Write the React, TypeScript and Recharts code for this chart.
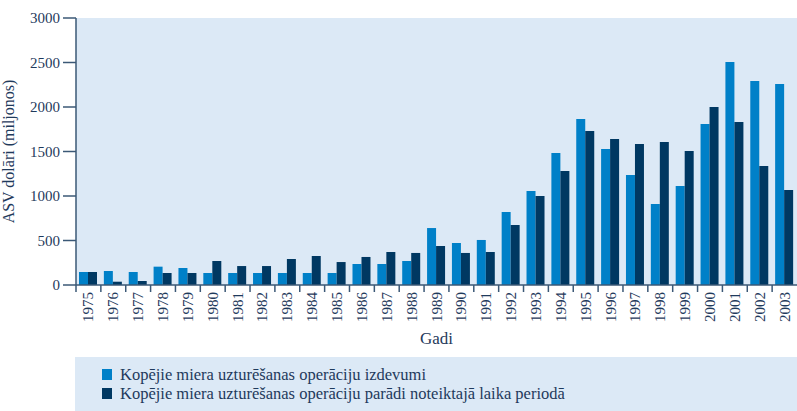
import { BarChart, Bar, CartesianGrid, XAxis, YAxis, Legend } from 'recharts';

const years = [
  '1975', '1976', '1977', '1978', '1979', '1980', '1981', '1982', '1983', '1984',
  '1985', '1986', '1987', '1988', '1989', '1990', '1991', '1992', '1993', '1994',
  '1995', '1996', '1997', '1998', '1999', '2000', '2001', '2002', '2003',
];

// Kopējie izdevumi
const izdevumi = [
  146, 157, 146, 206, 191, 135, 135, 135, 135, 135,
  135, 236, 236, 270, 640, 472, 506, 820, 1056, 1483,
  1865, 1528, 1236, 910, 1112, 1809, 2506, 2292, 2258,
];

// Kopējie parādi
const paradi = [
  146, 37, 45, 135, 135, 270, 213, 213, 292, 326,
  258, 315, 371, 360, 438, 360, 371, 674, 1000, 1281,
  1730, 1640, 1584, 1607, 1506, 2000, 1831, 1337, 1067,
];

const yTicks = [0, 500, 1000, 1500, 2000, 2500, 3000];

const seriesNames = [
  'Kopējie miera uzturēšanas operāciju izdevumi',
  'Kopējie miera uzturēšanas operāciju parādi noteiktajā laika periodā',
];

const data = years.map((y, i) => ({ year: y, izdevumi: izdevumi[i], paradi: paradi[i] }));

const LIGHT = '#0080c8';
const DARK = '#003862';
const BG = '#dce9f6';
const AXIS = '#3b5876';
const TEXT = '#1f3a5c';
const FONT = 'Liberation Serif, DejaVu Serif, serif';

const YearTick = (props: any) => {
  const { x, y, payload } = props;
  const half = payload.offset ?? 12.4;
  return (
    <g>
      <line x1={x - half} y1={y} x2={x - half} y2={y + 7} stroke={AXIS} strokeWidth={1.5} />
      <text
        transform={`translate(${x},${y + 7}) rotate(-90)`}
        textAnchor="end"
        dominantBaseline="central"
        fontSize={15}
        fontFamily={FONT}
        fill={TEXT}
      >
        {payload.value}
      </text>
    </g>
  );
};

const LegendBox = () => (
  <div
    style={{
      background: BG,
      width: 722,
      height: 54,
      boxSizing: 'border-box',
      paddingTop: 8,
      paddingLeft: 27,
      fontFamily: FONT,
      fontSize: 16.5,
      color: TEXT,
      textAlign: 'left',
    }}
  >
    {seriesNames.map((n, i) => (
      <div key={n} style={{ display: 'flex', alignItems: 'center', height: 19 }}>
        <span
          style={{
            display: 'inline-block',
            width: 10,
            height: 11,
            background: i === 0 ? LIGHT : DARK,
            marginRight: 8,
          }}
        />
        {n}
      </div>
    ))}
  </div>
);

export default function App() {
  return (
    <div style={{ position: 'absolute', left: 0, top: 0, fontFamily: FONT }}>
      <BarChart
        width={797}
        height={411}
        data={data}
        margin={{ top: 18, right: 0, left: 0, bottom: 2 }}
        barGap={0}
        barSize={9}
      >
        <CartesianGrid fill={BG} stroke="none" horizontal={false} vertical={false} />
        <XAxis
          dataKey="year"
          interval={0}
          tickSize={0}
          tickMargin={0}
          tick={<YearTick />}
          height={70}
          stroke={AXIS}
          strokeWidth={1.5}
          label={{
            value: 'Gadi',
            position: 'insideBottom',
            offset: 11,
            fill: TEXT,
            fontSize: 17,
            fontFamily: FONT,
          }}
        />
        <YAxis
          domain={[0, 3000]}
          ticks={yTicks}
          width={76}
          tickSize={13}
          tickMargin={3}
          stroke={AXIS}
          strokeWidth={1.5}
          tick={{ fill: TEXT, fontSize: 15, fontFamily: FONT }}
          label={{
            value: 'ASV dolāri (miljonos)',
            angle: -90,
            position: 'insideLeft',
            offset: 8,
            style: { textAnchor: 'middle' },
            fill: TEXT,
            fontSize: 16,
            fontFamily: FONT,
          }}
        />
        <Legend
          content={<LegendBox />}
          wrapperStyle={{ left: 75, top: 357, width: 722, height: 54 }}
        />
        <Bar dataKey="izdevumi" name={seriesNames[0]} fill={LIGHT} isAnimationActive={false} />
        <Bar dataKey="paradi" name={seriesNames[1]} fill={DARK} isAnimationActive={false} />
      </BarChart>
    </div>
  );
}
